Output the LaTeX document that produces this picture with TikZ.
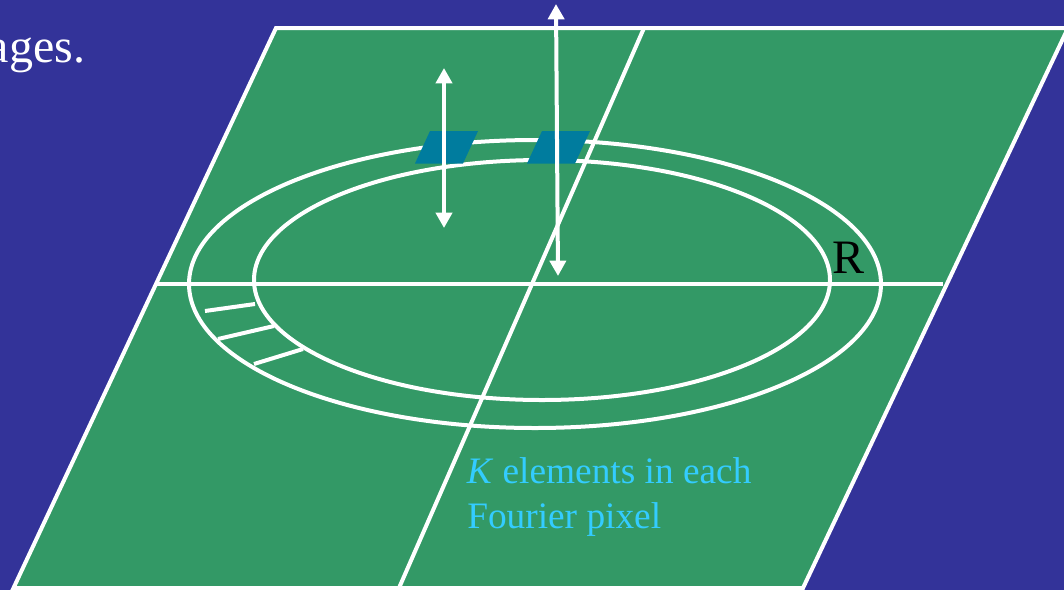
\documentclass[tikz,border=0pt]{standalone}
\usepackage{fontspec}
\setmainfont{Liberation Serif}
\usetikzlibrary{arrows.meta}
\definecolor{slideblue}{HTML}{333399}
\definecolor{planegreen}{HTML}{339966}
\definecolor{patchblue}{HTML}{007C9E}
\definecolor{notecyan}{HTML}{33CCFF}

\begin{document}
\begin{tikzpicture}[
  x=0.75pt, y=-0.75pt,
  wline/.style={draw=white, line width=3pt},
  patch/.style={fill=patchblue, draw=none},
  arr/.style={{Triangle[length=11.5pt,width=12pt]}-{Triangle[length=11.5pt,width=12pt]}, draw=white, line width=3pt},
  note/.style={text=notecyan, font=\fontsize{28}{34}\selectfont, anchor=base west, inner sep=0pt}]
\useasboundingbox (0,0) rectangle (1064,590);
\fill[slideblue] (0,0) rectangle (1064,590);
% plane
\coordinate (pa) at (276,28);
\coordinate (pb) at (1068,28);
\coordinate (pc) at (803,588);
\coordinate (pd) at (13.5,588);
\filldraw[wline, fill=planegreen] (pa) -- (pb) -- (pc) -- (pd) -- cycle;
\coordinate (hl) at (157,283.5);
\coordinate (hr) at (943,283.5);
\coordinate (vt) at (644,28);
\coordinate (vb) at (399,588);
\draw[wline] (hl) -- (hr);
\draw[wline] (vt) -- (vb);
% rings
\coordinate (ctro) at (535,284);
\coordinate (ctri) at (542,280);
\draw[wline] (ctro) ellipse [x radius=346, y radius=144];
\draw[wline] (ctri) ellipse [x radius=288, y radius=120];
% ticks
\coordinate (ta) at (205,311); \coordinate (tb) at (255,304);
\coordinate (tc) at (218,339); \coordinate (td) at (274,326);
\coordinate (te) at (254,364); \coordinate (tf) at (303,349);
\draw[wline] (ta) -- (tb);
\draw[wline] (tc) -- (td);
\draw[wline] (te) -- (tf);
% patches
\fill[patch] (430,131) -- (478,131) -- (463,163.5) -- (415,163.5) -- cycle;
\fill[patch] (542,131) -- (590,131) -- (575,163.5) -- (527,163.5) -- cycle;
% arrows
\coordinate (aa) at (444,68);
\coordinate (ab) at (444,228);
\coordinate (ac) at (556,4);
\coordinate (ad) at (558,276);
\draw[arr] (aa) -- (ab);
\draw[arr] (ac) -- (ad);
% labels
\node[anchor=base west, inner sep=0pt, font=\fontsize{36}{40}\selectfont] (rlab) at (832.5,273) {R};
\node[note] (kline) at (466.5,483) {\textit{K} elements in each};
\node[note] (fline) at (467,528) {Fourier pixel};
\node[anchor=base east, inner sep=0pt, text=white, font=\fontsize{36}{40}\selectfont] (ages) at (85.5,62) {ages.};
\end{tikzpicture}
\end{document}
